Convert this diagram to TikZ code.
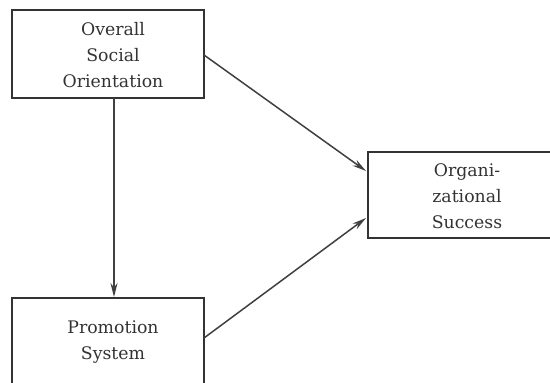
\documentclass[tikz,border=0pt]{standalone}
\usepackage{fontspec}
\setmainfont{DejaVu Serif}
\usetikzlibrary{arrows.meta}
\begin{document}
\begin{tikzpicture}[x=1pt,y=-1pt,
  boxline/.style={draw=black!80, line width=1.8pt},
  conn/.style={draw=black!75, line width=1.5pt, -{Stealth[length=14pt,width=7pt]}},
  lbl/.style={font=\fontsize{17.3}{26}\selectfont, text=black!80, align=center, inner sep=0pt}]
\useasboundingbox (0,0) rectangle (550,383);
\clip (0,0) rectangle (550,383);
\fill[white] (0,0) rectangle (550,383);
% boxes
\draw[boxline] (12,10) rectangle (204,98);
\draw[boxline] (368,152) rectangle (560,238);
\draw[boxline] (12,298) rectangle (204,395);
% labels
\node[lbl] (osa) at (113,55) {Overall\\Social\\Orientation};
\node[lbl] (org) at (467,196) {Organi-\\zational\\Success};
\node[lbl] (pro) at (113,342) {Promotion\\System};
% anchor coordinates
\coordinate (osbot) at (114,98);
\coordinate (osright) at (204,55);
\coordinate (protop) at (114,297);
\coordinate (proright) at (204,338);
\coordinate (orgtop) at (366,171);
\coordinate (orgbot) at (366,218);
\draw[conn] (osbot) -- (protop);
\draw[conn] (osright) -- (orgtop);
\draw[conn] (proright) -- (orgbot);
\end{tikzpicture}
\end{document}
